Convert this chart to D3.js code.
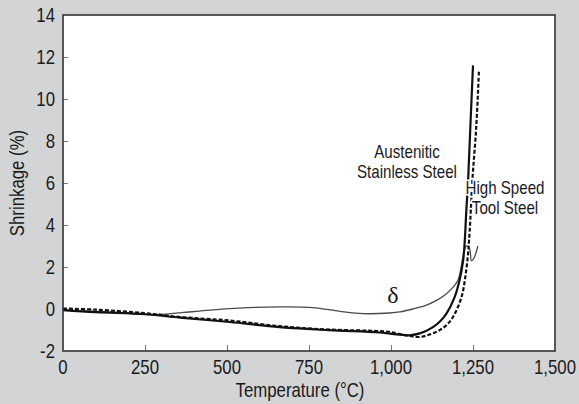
<!DOCTYPE html>
<html>
<head>
<meta charset="utf-8">
<script src="https://cdn.jsdelivr.net/npm/d3@7/dist/d3.min.js"></script>
<style>
  body { margin: 0; background: #d3d4d6; }
  text { font-family: "Liberation Sans", Arial, sans-serif; fill: #1a1a1a; }
</style>
</head>
<body>
<div id="vis"></div>
<script>
// axis ticks
var xTicks = [0, 250, 500, 750, 1000, 1250, 1500],
    yTicks = [-2, 0, 2, 4, 6, 8, 10, 12, 14];

// thick solid curve (austenitic stainless steel)
var solidTemp   = [0, 100, 250, 356, 508, 660, 813, 965, 1026, 1057, 1090, 1128, 1150, 1169, 1194, 1209, 1220, 1225, 1229, 1235, 1242, 1250],
    solidShrink = [-0.05, -0.15, -0.25, -0.41, -0.62, -0.86, -1.01, -1.12, -1.22, -1.25, -1.15, -0.86, -0.58, -0.22, 0.57, 1.37, 2.32, 3.27, 4.5, 6.1, 8.7, 11.6];

// dashed curve (high speed tool steel)
var dashTemp   = [0, 100, 250, 356, 508, 660, 813, 965, 1000, 1050, 1088, 1120, 1148, 1170, 1189, 1215, 1228, 1235, 1238, 1242, 1248, 1260, 1268],
    dashShrink = [0.02, -0.03, -0.2, -0.38, -0.55, -0.82, -0.98, -1.05, -1.1, -1.27, -1.33, -1.2, -1.01, -0.75, -0.38, 0.57, 1.69, 2.64, 3.27, 4.3, 6.1, 8.7, 11.3];

// thin curve (delta ferrite)
var deltaTemp   = [0, 150, 280, 400, 508, 660, 762, 844, 915, 996, 1027, 1067, 1108, 1140, 1169, 1190, 1204, 1214, 1222, 1230, 1240, 1245, 1252, 1265],
    deltaShrink = [-0.05, -0.15, -0.27, -0.12, 0.02, 0.1, 0.07, -0.11, -0.22, -0.19, -0.14, 0.0, 0.18, 0.42, 0.73, 1.05, 1.37, 2.0, 2.7, 3.0, 2.85, 2.3, 2.4, 3.0];

var width = 579,
    height = 404,
    margin = { top: 15, right: 24, bottom: 53, left: 63 },
    drawWidth = width - margin.left - margin.right,
    drawHeight = height - margin.top - margin.bottom,
    squeeze = 0.84; // the original type is a narrow grotesque

var svg = d3.select('#vis').append('svg')
    .attr('width', width)
    .attr('height', height);

var g = svg.append('g')
    .attr('transform', 'translate(' + margin.left + ',' + margin.top + ')');

var x = d3.scaleLinear().domain([0, 1500]).range([0, drawWidth]),
    y = d3.scaleLinear().domain([-2, 14]).range([drawHeight, 0]);

// narrow text helper
function label(parent, px, py, str, size, anchor, rotate) {
  return parent.append('text')
      .attr('transform', 'translate(' + px + ',' + py + ')' + (rotate ? ' rotate(' + rotate + ')' : '') + ' scale(' + squeeze + ',1)')
      .attr('text-anchor', anchor || 'middle')
      .attr('font-size', size)
      .text(str);
}

// plot area
g.append('rect')
    .attr('width', drawWidth)
    .attr('height', drawHeight)
    .attr('fill', '#fff');

// inward ticks
g.append('g')
    .attr('transform', 'translate(0,' + drawHeight + ')')
    .call(d3.axisBottom(x).tickValues(xTicks.slice(1, -1)).tickSize(-6).tickFormat(''))
    .call(function(a) { a.select('.domain').remove(); a.selectAll('line').attr('stroke', '#777'); });

g.append('g')
    .call(d3.axisLeft(y).tickValues(yTicks.slice(1, -1)).tickSize(-5).tickFormat(''))
    .call(function(a) { a.select('.domain').remove(); a.selectAll('line').attr('stroke', '#777'); });

// tick labels
xTicks.forEach(function(d) {
  label(g, x(d), drawHeight + 23, d3.format(',')(d), 20, 'middle');
});

yTicks.forEach(function(d) {
  label(g, -8, y(d) + 7, d, 20, 'end');
});

// axis titles
label(svg, 300, 397, 'Temperature (°C)', 20, 'middle');
label(svg, 24, margin.top + drawHeight / 2, 'Shrinkage (%)', 20, 'middle', -90);

function pairs(t, v) {
  return t.map(function(d, i) { return [d, v[i]]; });
}

var line = d3.line()
    .x(function(d) { return x(d[0]); })
    .y(function(d) { return y(d[1]); })
    .curve(d3.curveCatmullRom.alpha(0.5));

g.append('path')
    .datum(pairs(deltaTemp, deltaShrink))
    .attr('d', line)
    .attr('fill', 'none')
    .attr('stroke', '#4a4a4a')
    .attr('stroke-width', 1.3);

g.append('path')
    .datum(pairs(dashTemp, dashShrink))
    .attr('d', line)
    .attr('fill', 'none')
    .attr('stroke', '#111')
    .attr('stroke-width', 2.2)
    .attr('stroke-dasharray', '4,2');

g.append('path')
    .datum(pairs(solidTemp, solidShrink))
    .attr('d', line)
    .attr('fill', 'none')
    .attr('stroke', '#111')
    .attr('stroke-width', 2.2);

// annotations, with a white halo over the curves
function note(px, py, lines, size) {
  lines.forEach(function(s, i) {
    label(svg, px, py + i * size * 1.1, s, size, 'middle')
        .attr('stroke', '#fff')
        .attr('stroke-width', 3)
        .attr('paint-order', 'stroke');
  });
}

note(407, 158, ['Austenitic', 'Stainless Steel'], 18);
note(505, 194, ['High Speed', 'Tool Steel'], 18);

svg.append('text')
    .attr('x', 393)
    .attr('y', 303)
    .attr('text-anchor', 'middle')
    .attr('font-size', 24)
    .style('font-family', '"Liberation Serif", "DejaVu Serif", serif')
    .text('δ');

// frame
g.append('rect')
    .attr('width', drawWidth)
    .attr('height', drawHeight)
    .attr('fill', 'none')
    .attr('stroke', '#333')
    .attr('stroke-width', 1.6);
</script>
</body>
</html>
